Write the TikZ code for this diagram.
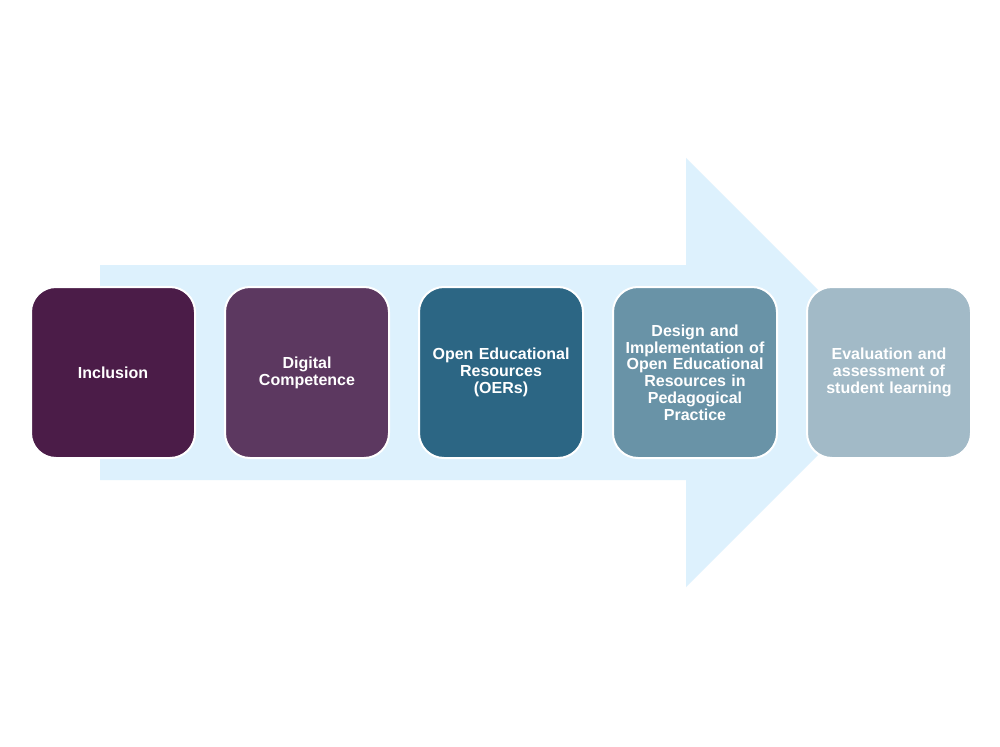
\documentclass[tikz,border=0pt]{standalone}
\usepackage{fontspec}
\setmainfont{Liberation Sans}
\definecolor{cA}{HTML}{4B1C48}
\definecolor{cB}{HTML}{5C3860}
\definecolor{cC}{HTML}{2C6684}
\definecolor{cD}{HTML}{6993A7}
\definecolor{cE}{HTML}{A2BAC7}
\definecolor{arrowfill}{HTML}{DDF1FD}
\begin{document}
\begin{tikzpicture}[x=1pt,y=-1pt,
  stagebox/.style={draw=white, line width=2pt, rounded corners=25pt,
    minimum width=164pt, minimum height=171pt, inner sep=0pt,
    text=white, align=center, text width=156pt,
    font=\fontsize{16}{16.8}\selectfont\bfseries}]
\useasboundingbox (0,0) rectangle (1000,746);
\fill[white] (0,0) rectangle (1000,746);
\fill[arrowfill] (100,265) -- (686,265) -- (686,158) -- (900.5,372.5) -- (686,587) -- (686,480) -- (100,480) -- cycle;
\node[stagebox, fill=cA] (s1) at (113,372.5) {Inclusion};
\node[stagebox, fill=cB] (s2) at (307,372.5) {Digital\\Competence};
\node[stagebox, fill=cC] (s3) at (501,372.5) {Open Educational\\Resources\\(OERs)};
\node[stagebox, fill=cD] (s4) at (695,372.5) {Design and\\Implementation of\\Open Educational\\Resources in\\Pedagogical\\Practice};
\node[stagebox, fill=cE] (s5) at (889,372.5) {Evaluation and\\assessment of\\student learning};
\end{tikzpicture}
\end{document}
